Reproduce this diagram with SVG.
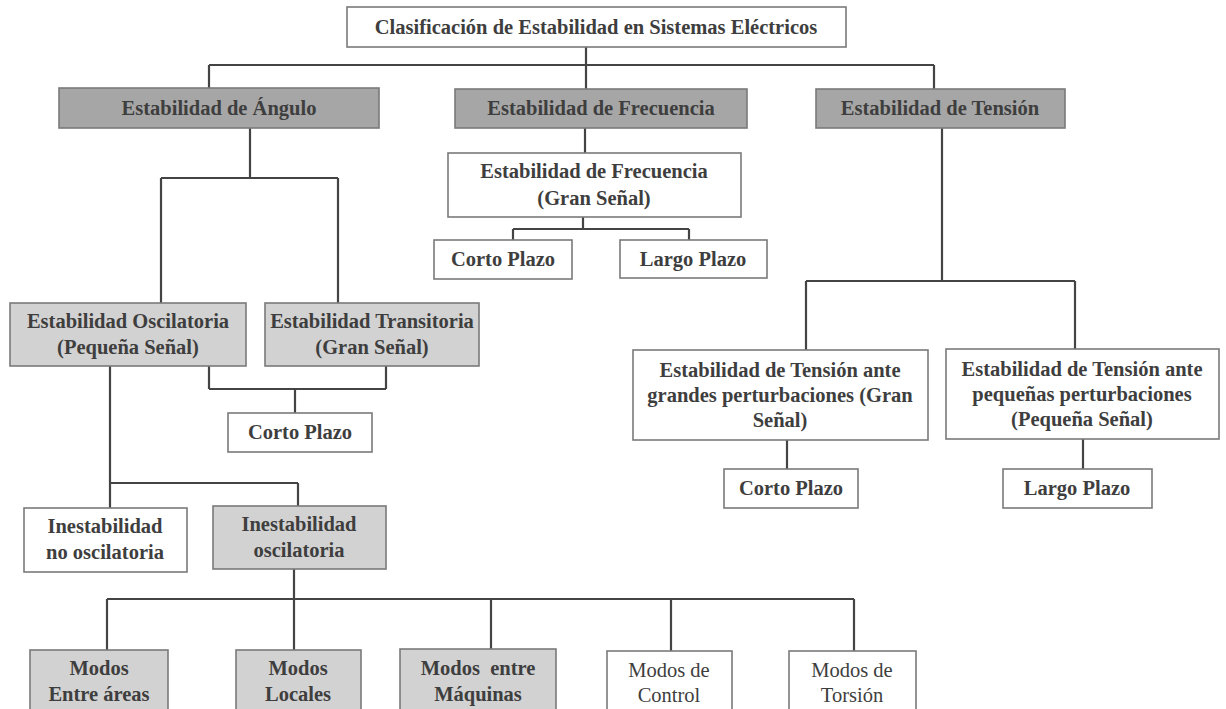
<svg xmlns="http://www.w3.org/2000/svg" width="1226" height="709" viewBox="0 0 1226 709">
<style>
.box{stroke:#7a7a7a;stroke-width:1.6}
.w{fill:#ffffff}
.d{fill:#a6a6a6}
.l{fill:#d2d2d2}
text{font-family:"Liberation Serif","Times New Roman",serif;font-size:20.5px;font-weight:bold;fill:#3e3e3e;text-anchor:middle}
text.r{font-weight:normal}
.c{fill:none;stroke:#444444;stroke-width:2.2}
</style>
<rect width="1226" height="709" fill="#ffffff"/>
<g id="connectors" class="c">
<path d="M586,47V89M209,65H934M209,65V88M934,65V89"/>
<path d="M585,128V153M583,217V229M513,229H689M513,229V240M689,229V240"/>
<path d="M250,128V178M161,178H338M161,178V303M338,178V303"/>
<path d="M209,366V389M386,366V389M209,389H386M295,389V413"/>
<path d="M110,366V508M110,483H298M298,483V506"/>
<path d="M294,569V599M107,599H854M107,599V650M294,599V650M491,599V649M671,599V651M854,599V651"/>
<path d="M942,128V281M806,281H1075M806,281V350M1075,281V349"/>
<path d="M787,440V469M1083,439V469"/>
</g>
<g id="n-title"><rect class="box w" x="347" y="7" width="499" height="40"/><text x="596" y="34">Clasificación de Estabilidad en Sistemas Eléctricos</text></g>
<g id="n-angulo"><rect class="box d" x="59" y="88" width="320" height="40"/><text x="219" y="115">Estabilidad de Ángulo</text></g>
<g id="n-frecuencia"><rect class="box d" x="455" y="89" width="292" height="39"/><text x="601" y="115">Estabilidad de Frecuencia</text></g>
<g id="n-tension"><rect class="box d" x="816" y="89" width="249" height="39"/><text x="940" y="115">Estabilidad de Tensión</text></g>
<g id="n-freq-gran"><rect class="box w" x="448" y="153" width="293" height="64"/><text x="594" y="178">Estabilidad de Frecuencia</text><text x="594" y="205">(Gran Señal)</text></g>
<g id="n-freq-corto"><rect class="box w" x="434" y="240" width="138" height="39"/><text x="503" y="266">Corto Plazo</text></g>
<g id="n-freq-largo"><rect class="box w" x="620" y="240" width="147" height="38"/><text x="693" y="266">Largo Plazo</text></g>
<g id="n-osc"><rect class="box l" x="10" y="303" width="236" height="63"/><text x="128" y="328">Estabilidad Oscilatoria</text><text x="128" y="354">(Pequeña Señal)</text></g>
<g id="n-trans"><rect class="box l" x="265" y="303" width="214" height="63"/><text x="372" y="328">Estabilidad Transitoria</text><text x="372" y="354">(Gran Señal)</text></g>
<g id="n-ang-corto"><rect class="box w" x="228" y="413" width="144" height="39"/><text x="300" y="439">Corto Plazo</text></g>
<g id="n-no-osc"><rect class="box w" x="24" y="508" width="163" height="64"/><text x="105" y="533">Inestabilidad</text><text x="105" y="559">no oscilatoria</text></g>
<g id="n-inest-osc"><rect class="box l" x="213" y="506" width="173" height="63"/><text x="299" y="531">Inestabilidad</text><text x="299" y="557">oscilatoria</text></g>
<g id="n-entre"><rect class="box l" x="30" y="650" width="138" height="75"/><text x="99" y="675">Modos</text><text x="99" y="701">Entre áreas</text></g>
<g id="n-locales"><rect class="box l" x="236" y="650" width="125" height="75"/><text x="298" y="675">Modos</text><text x="298" y="701">Locales</text></g>
<g id="n-maquinas"><rect class="box l" x="400" y="649" width="156" height="75"/><text x="478" y="675" style="white-space:pre">Modos  entre</text><text x="478" y="701">Máquinas</text></g>
<g id="n-control"><rect class="box w" x="607" y="651" width="125" height="75"/><text class="r" x="669" y="677">Modos de</text><text class="r" x="669" y="702">Control</text></g>
<g id="n-torsion"><rect class="box w" x="789" y="651" width="127" height="75"/><text class="r" x="852" y="677">Modos de</text><text class="r" x="852" y="702">Torsión</text></g>
<g id="n-ten-gran"><rect class="box w" x="633" y="350" width="295" height="90"/><text x="780" y="377">Estabilidad de Tensión ante</text><text x="780" y="402">grandes perturbaciones (Gran</text><text x="780" y="427">Señal)</text></g>
<g id="n-ten-peq"><rect class="box w" x="946" y="349" width="273" height="90"/><text x="1082" y="376">Estabilidad de Tensión ante</text><text x="1082" y="401">pequeñas perturbaciones</text><text x="1082" y="426">(Pequeña Señal)</text></g>
<g id="n-ten-corto"><rect class="box w" x="724" y="469" width="134" height="39"/><text x="791" y="495">Corto Plazo</text></g>
<g id="n-ten-largo"><rect class="box w" x="1003" y="469" width="149" height="39"/><text x="1077" y="495">Largo Plazo</text></g>
</svg>
